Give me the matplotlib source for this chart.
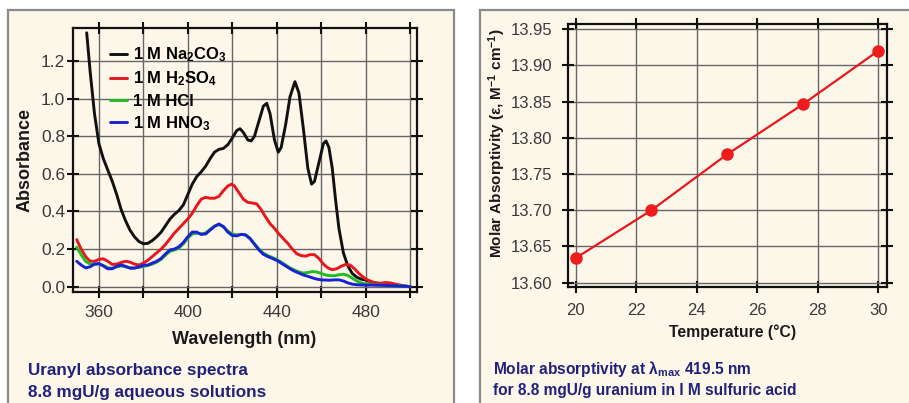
import matplotlib
matplotlib.use("Agg")
import matplotlib.pyplot as plt
from matplotlib.patches import Rectangle
from matplotlib.ticker import MultipleLocator, FuncFormatter

plt.rcParams['font.family'] = ['Liberation Sans', 'DejaVu Sans']
plt.rcParams['mathtext.fontset'] = 'custom'
plt.rcParams['mathtext.rm'] = 'Liberation Sans:bold'
plt.rcParams['mathtext.it'] = 'Liberation Sans:bold'
plt.rcParams['mathtext.bf'] = 'Liberation Sans:bold'
plt.rcParams['mathtext.default'] = 'bf'

# ---------------- data: left panel (absorbance spectra) ----------------
wl_na2co3 = [354.5, 356, 358, 360, 362, 364, 366, 368, 370, 372, 374, 376, 378, 380, 382, 384,
             386, 388, 390, 392, 394, 396, 398, 400, 402, 404, 406, 408, 410, 412, 414, 416,
             418, 420, 422, 423.5, 425, 427, 428.5, 430, 432, 434, 435.5, 437, 439, 440.7,
             442, 444, 446, 448.2, 450, 452, 454, 455.7, 457, 459, 461, 462.2, 463.5, 465,
             466.5, 468, 470, 472, 474, 476, 478, 480, 484, 488, 492, 496, 500]
abs_na2co3 = [1.35, 1.15, 0.92, 0.76, 0.68, 0.62, 0.56, 0.49, 0.41, 0.35, 0.30, 0.265, 0.24, 0.228,
              0.23, 0.245, 0.265, 0.29, 0.325, 0.36, 0.385, 0.405, 0.435, 0.49, 0.545, 0.585,
              0.61, 0.64, 0.68, 0.715, 0.73, 0.735, 0.755, 0.79, 0.83, 0.84, 0.82, 0.78, 0.775,
              0.80, 0.88, 0.96, 0.975, 0.92, 0.78, 0.715, 0.74, 0.86, 1.01, 1.09, 1.03, 0.84,
              0.63, 0.545, 0.56, 0.66, 0.76, 0.775, 0.74, 0.63, 0.46, 0.31, 0.18, 0.11, 0.07,
              0.05, 0.04, 0.035, 0.02, 0.012, 0.008, 0.004, 0.0]

wl_h2so4 = [350, 352, 354, 356, 358, 360, 362, 364, 366, 368, 370, 372, 374, 376, 378, 380, 382,
            384, 386, 388, 390, 392, 394, 396, 398, 400, 402, 404, 406, 408, 410, 412, 414, 416,
            418, 419.7, 421, 423, 425, 427, 429, 431, 433, 435, 437, 439, 441, 443, 445, 447,
            449, 451, 453, 455, 457, 459, 461, 463, 465, 467, 469, 471, 473, 475, 477, 479, 481,
            483, 485, 487, 489, 491, 494, 497, 500]
abs_h2so4 = [0.25, 0.20, 0.16, 0.135, 0.135, 0.145, 0.148, 0.135, 0.118, 0.12, 0.128, 0.135,
             0.13, 0.12, 0.115, 0.125, 0.14, 0.16, 0.18, 0.20, 0.225, 0.255, 0.285, 0.31, 0.335,
             0.36, 0.39, 0.43, 0.465, 0.475, 0.47, 0.47, 0.48, 0.51, 0.535, 0.545, 0.535, 0.50,
             0.465, 0.448, 0.445, 0.44, 0.41, 0.37, 0.335, 0.31, 0.28, 0.255, 0.23, 0.20, 0.175,
             0.165, 0.162, 0.17, 0.17, 0.15, 0.12, 0.10, 0.09, 0.095, 0.108, 0.118, 0.115, 0.095,
             0.07, 0.05, 0.035, 0.025, 0.02, 0.018, 0.022, 0.02, 0.012, 0.005, 0.0]

wl_acid = [350, 352, 354, 356, 358, 360, 362, 364, 366, 368, 370, 372, 374, 376, 378, 380, 382,
           384, 386, 388, 390, 392, 394, 396, 398, 400, 402, 404, 406, 408, 410, 412, 414, 416,
           418, 420, 422, 424, 426, 428, 430, 432, 434, 436, 438, 440, 442, 444, 446, 448, 450,
           452, 454, 456, 458, 460, 462, 464, 466, 468, 470, 472, 474, 476, 478, 480, 484, 488,
           492, 496, 500]
abs_hcl = [0.21, 0.17, 0.135, 0.12, 0.118, 0.12, 0.112, 0.10, 0.098, 0.105, 0.11, 0.105, 0.10,
           0.10, 0.102, 0.108, 0.112, 0.12, 0.13, 0.145, 0.168, 0.188, 0.195, 0.205, 0.228, 0.258,
           0.28, 0.285, 0.28, 0.285, 0.305, 0.322, 0.33, 0.318, 0.295, 0.28, 0.275, 0.278, 0.275,
           0.258, 0.228, 0.20, 0.178, 0.165, 0.155, 0.145, 0.13, 0.115, 0.10, 0.088, 0.078, 0.072,
           0.075, 0.08, 0.078, 0.07, 0.062, 0.058, 0.058, 0.063, 0.066, 0.06, 0.045, 0.03, 0.02,
           0.014, 0.01, 0.008, 0.005, 0.003, 0.0]
abs_hno3 = [0.135, 0.115, 0.10, 0.105, 0.12, 0.123, 0.11, 0.095, 0.095, 0.108, 0.115, 0.108,
            0.098, 0.098, 0.105, 0.113, 0.115, 0.125, 0.135, 0.15, 0.175, 0.195, 0.20, 0.212,
            0.235, 0.265, 0.29, 0.29, 0.278, 0.28, 0.30, 0.32, 0.333, 0.32, 0.29, 0.272, 0.27,
            0.278, 0.275, 0.255, 0.225, 0.195, 0.172, 0.16, 0.15, 0.14, 0.125, 0.11, 0.095, 0.082,
            0.072, 0.062, 0.055, 0.047, 0.04, 0.036, 0.035, 0.034, 0.036, 0.036, 0.03, 0.02,
            0.013, 0.01, 0.009, 0.008, 0.008, 0.007, 0.005, 0.003, 0.0]

series_labels = ["1 M Na$_2$CO$_3$", "1 M H$_2$SO$_4$", "1 M HCl", "1 M HNO$_3$"]
series_colors = ["#111111", "#e8161e", "#22bb22", "#1a22d6"]

# ---------------- data: right panel (molar absorptivity) ----------------
temperature = [20, 22.5, 25, 27.5, 30]
molar_abs = [13.634, 13.700, 13.777, 13.846, 13.920]

# ---------------- figure ----------------
W, H = 909, 403
fig = plt.figure(figsize=(W / 100, H / 100), dpi=100)
fig.patch.set_facecolor('white')

bg = '#fcf7e9'
def px_rect(x0, y0, x1, y1):
    return (x0 / W, 1 - y1 / H, (x1 - x0) / W, (y1 - y0) / H)

for (x0, y0, x1, y1) in [(8, 10, 454, 420), (480, 10, 930, 420)]:
    l, b, w, h = px_rect(x0, y0, x1, y1)
    fig.patches.append(Rectangle((l, b), w, h, transform=fig.transFigure,
                                 facecolor=bg, edgecolor='#8a8a8a', linewidth=1.6, zorder=-5))

def style_axes(ax):
    ax.set_zorder(2)
    ax.set_facecolor(bg)
    for s in ax.spines.values():
        s.set_linewidth(1.6)
        s.set_color('#111111')
    ax.grid(True, color='#666666', linewidth=1.0)
    ax.set_axisbelow(True)
    ax.tick_params(which='major', direction='inout', length=9, width=1.5, color='#111111',
                   top=True, right=True, labelcolor='#3a3a3a')

# Left axes
axL = fig.add_axes([72.7 / W, 1 - 291.7 / H, (416.7 - 72.7) / W, (291.7 - 28.3) / H])
style_axes(axL)
order = [(wl_na2co3, abs_na2co3), (wl_h2so4, abs_h2so4), (wl_acid, abs_hcl), (wl_acid, abs_hno3)]
for (x, y), lab, c in zip(order, series_labels, series_colors):
    axL.plot(x, y, color=c, linewidth=2.1, label=lab, solid_capstyle='round')
axL.set_xlim(348.2, 503)
axL.set_ylim(-0.027, 1.374)
axL.xaxis.set_major_locator(MultipleLocator(20))
axL.yaxis.set_major_locator(MultipleLocator(0.2))
axL.xaxis.set_major_formatter(FuncFormatter(lambda v, p: f"{v:.0f}" if round(v) % 40 == 0 and v < 490 else ""))
axL.yaxis.set_major_formatter(FuncFormatter(lambda v, p: f"{v:.1f}"))
axL.tick_params(axis='both', labelsize=12.5)
axL.tick_params(axis='y', pad=1)
axL.tick_params(axis='x', pad=5)
leg = axL.legend(loc='upper left', bbox_to_anchor=(0.108, 0.934), frameon=False,
                 borderpad=0, borderaxespad=0,
                 handlelength=1.0, handletextpad=0.4, labelspacing=0.32,
                 prop={'weight': 'bold', 'size': 12})
fig.text(25 / W, 1 - 160 / H, "Absorbance", rotation=90, ha='center', va='center',
         fontsize=13, fontweight='bold', color='#1a1a1a')
fig.text(244 / W, 1 - 340 / H, "Wavelength (nm)", ha='center', va='center',
         fontsize=13, fontweight='bold', color='#1a1a1a')
fig.text(28 / W, 1 - 371 / H, "Uranyl absorbance spectra", ha='left', va='center',
         fontsize=12.3, fontweight='bold', color='#22227a')
fig.text(28 / W, 1 - 393 / H, "8.8 mgU/g aqueous solutions", ha='left', va='center',
         fontsize=12.3, fontweight='bold', color='#22227a')

# Right axes
axR = fig.add_axes([568 / W, 1 - 287 / H, (887 - 568) / W, (287 - 24) / H])
style_axes(axR)
axR.plot(temperature, molar_abs, color='#e8161e', linewidth=1.6, marker='o',
         markersize=8, markerfacecolor='#ee1c1c', markeredgecolor='#ee1c1c')
axR.set_xlim(19.74, 30.29)
axR.set_ylim(13.594, 13.957)
axR.xaxis.set_major_locator(MultipleLocator(2))
axR.yaxis.set_major_locator(MultipleLocator(0.05))
axR.yaxis.set_major_formatter(FuncFormatter(lambda v, p: f"{v:.2f}"))
axR.tick_params(axis='both', labelsize=12)
axR.tick_params(axis='y', pad=7)
axR.tick_params(axis='x', pad=7)
fig.text(497 / W, 1 - 143 / H, "Molar Absorptivity (ε, M$^{-1}$ cm$^{-1}$)", rotation=90,
         ha='center', va='center', fontsize=11, fontweight='bold', color='#1a1a1a')
fig.text(733 / W, 1 - 332 / H, "Temperature (°C)", ha='center', va='center',
         fontsize=11.3, fontweight='bold', color='#1a1a1a')
fig.text(493 / W, 1 - 369 / H, "Molar absorptivity at λ$_{max}$ 419.5 nm", ha='left', va='center',
         fontsize=11.2, fontweight='bold', color='#22227a')
fig.text(493 / W, 1 - 390 / H, "for 8.8 mgU/g uranium in I M sulfuric acid", ha='left',
         va='center', fontsize=11.2, fontweight='bold', color='#22227a')

fig.savefig("out.png", dpi=100, facecolor='white')
